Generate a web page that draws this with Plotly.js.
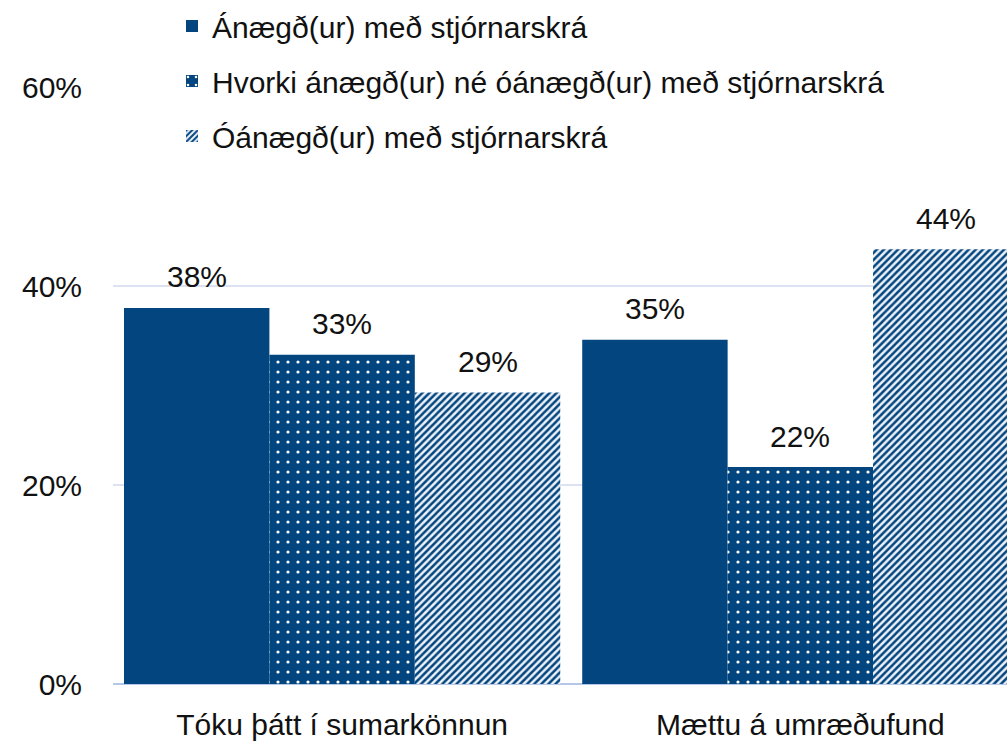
<!DOCTYPE html>
<html><head><meta charset="utf-8">
<script src="https://cdn.plot.ly/plotly-3.0.1.min.js"></script>
<style>body{margin:0;background:#fff}#chart{width:1007px;height:747px}</style>
</head><body><div id="chart"></div>
<script>
const categories = ["Tóku þátt í sumarkönnun", "Mættu á umræðufund"];
const seriesNames = ["Ánægð(ur) með stjórnarskrá", "Hvorki ánægð(ur) né óánægð(ur) með stjórnarskrá", "Óánægð(ur) með stjórnarskrá"];
const satisfied = [0.378, 0.346];
const neutral = [0.331, 0.218];
const dissatisfied = [0.293, 0.437];
const yTicks = [0, 0.2, 0.4, 0.6];
const yTickText = ["0%", "20%", "40%", "60%"];

const blue = "#03467F";
const font = {family: "Liberation Sans, Arial, sans-serif", size: 30, color: "#111"};
const bargap = 0.048;

function trace(name, vals, pattern, grp) {
  return {
    type: "bar", name: name, x: categories, y: vals,
    legendgroup: grp,
    marker: {color: blue, line: {width: 0}, pattern: pattern},
    hoverinfo: "skip"
  };
}

const data = [
  trace(seriesNames[0], satisfied, {shape: ""}, "a"),
  trace(seriesNames[1], neutral, {shape: ".", bgcolor: blue, fgcolor: "#ffffff", size: 10, solidity: 0.08, fillmode: "replace"}, "b"),
  trace(seriesNames[2], dissatisfied, {shape: "/", bgcolor: "#eef2f8", fgcolor: blue, size: 5, solidity: 0.5, fillmode: "replace"}, "c")
];

// value labels above each bar, placed through the category axis
const series = [satisfied, neutral, dissatisfied];
const barW = (1 - bargap) / series.length;
const annotations = [];
series.forEach((vals, k) => {
  vals.forEach((v, i) => {
    annotations.push({
      xref: "x", yref: "y", x: i + (k - (series.length - 1) / 2) * barW, y: v,
      text: Math.round(v * 100) + "%", showarrow: false,
      yanchor: "middle", yshift: 31, font: font
    });
  });
});

const layout = {
  width: 1007, height: 747,
  margin: {l: 113, r: 0, t: 87, b: 63},
  paper_bgcolor: "#fff", plot_bgcolor: "#fff",
  font: font,
  barmode: "group", bargap: bargap, bargroupgap: 0,
  showlegend: true,
  legend: {x: 0.066, xanchor: "left", y: 1.146, yanchor: "top", bgcolor: "rgba(0,0,0,0)",
           traceorder: "grouped", tracegroupgap: 13, font: font},
  annotations: annotations,
  xaxis: {type: "category", range: [-0.5, 1.451], showgrid: false, showline: false,
          ticks: "", tickfont: font, ticklabelstandoff: 20, tickangle: 0, fixedrange: true},
  yaxis: {range: [0, 0.6], tickvals: yTicks, ticktext: yTickText, showgrid: true,
          gridcolor: "#dde2f2", gridwidth: 1.5, zeroline: true, zerolinecolor: "#b4c7e7", zerolinewidth: 2,
          showline: false, ticks: "", tickfont: font, ticklabelstandoff: 30, fixedrange: true}
};

Plotly.newPlot("chart", data, layout, {displayModeBar: false, staticPlot: true});
</script></body></html>
